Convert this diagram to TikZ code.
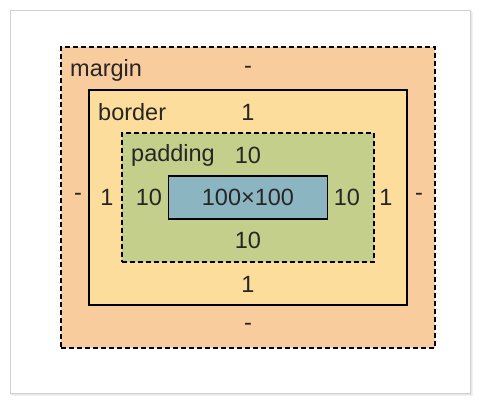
\documentclass[tikz,border=0pt]{standalone}
\usepackage{fontspec}
\setmainfont{Liberation Sans}
\definecolor{marginc}{HTML}{F9CC9D}
\definecolor{borderc}{HTML}{FDDD9B}
\definecolor{paddingc}{HTML}{C3CF8A}
\definecolor{contentc}{HTML}{8BB5C0}
\definecolor{txt}{HTML}{262626}
\definecolor{cardedge}{HTML}{D0D0D0}
\begin{document}
\begin{tikzpicture}[x=1pt,y=-1pt,
  box/.style={rectangle, inner sep=0pt, line width=1.8pt, draw=black},
  dashbox/.style={box, dash pattern=on 5pt off 3pt},
  lbl/.style={text=txt, inner sep=0pt, font=\fontsize{23.5}{28}\selectfont, anchor=center},
]
\useasboundingbox (0,0) rectangle (480,404);
\fill[white] (0,0) rectangle (480,404);
% card with soft shadow
\fill[black!5] (12,12) rectangle (473,396);
\fill[black!9] (11,11) rectangle (471.5,394.5);
\filldraw[fill=white, draw=cardedge, line width=0.8pt] (10,10) rectangle (470,393);
% boxes
\node[dashbox, fill=marginc, minimum width=374pt, minimum height=301pt] (margin) at (248,197.5) {};
\node[box, fill=borderc, minimum width=318pt, minimum height=215pt] (border) at (248,197.5) {};
\node[dashbox, fill=paddingc, minimum width=252pt, minimum height=129pt] (padding) at (248,197.5) {};
\node[box, fill=contentc, minimum width=159pt, minimum height=43pt] (content) at (248,197.5) {};
% labels
\node[lbl, anchor=west] (lm) at (70,70) {margin};
\node[lbl] (mt) at (248,70) {-};
\node[lbl, anchor=west] (lb) at (98,112) {border};
\node[lbl] (bt) at (248,112) {1};
\node[lbl, anchor=west] (lp) at (131,155) {padding};
\node[lbl] (pt) at (248,155) {10};
\node[lbl] (cc) at (248,197) {100×100};
\node[lbl] (pl) at (149,197) {10};
\node[lbl] (pr) at (347,197) {10};
\node[lbl] (bl) at (107,197) {1};
\node[lbl] (br) at (386,197) {1};
\node[lbl] (ml) at (78,197) {-};
\node[lbl] (mr) at (419,197) {-};
\node[lbl] (pb) at (248,240) {10};
\node[lbl] (bb) at (248,284) {1};
\node[lbl] (mb) at (248,327) {-};
\end{tikzpicture}
\end{document}
